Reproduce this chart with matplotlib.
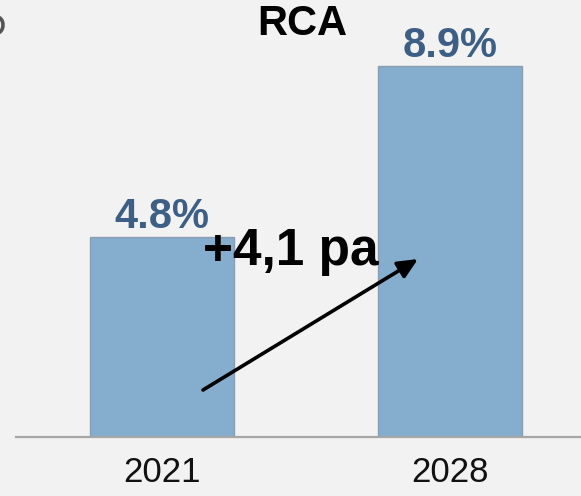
import matplotlib
matplotlib.use("Agg")
import matplotlib.pyplot as plt
from matplotlib.patches import Arc

categories = ["2021", "2028"]
values = [4.8, 8.9]
value_labels = ["4.8%", "8.9%"]
title = "RCA"
delta_label = "+4,1 pa"

W, H = 581, 496
DPI = 100
BG = "#f2f2f2"
BAR = "#85adce"
EDGE = "#8c9db0"
LABEL = "#3e5f85"

plt.rcParams["font.family"] = ["Liberation Sans", "DejaVu Sans"]

fig = plt.figure(figsize=(W / DPI, H / DPI), dpi=DPI, facecolor=BG)
ax = fig.add_axes([0, 59 / H, 1, 1 - 59 / H])
ax.set_facecolor(BG)

x = list(range(len(categories)))
ax.bar(x, values, width=0.5, color=BAR, edgecolor=EDGE, linewidth=1.0, zorder=2)

ax.set_xlim((0 - 162) / 288, (W - 162) / 288)
ax.set_ylim(0, (H - 59) / 41.7)

for s in ax.spines.values():
    s.set_visible(False)
ax.axhline(0, xmin=16 / W, xmax=1, color="#a6a6a6", linewidth=1.6, zorder=3, clip_on=False)

ax.set_yticks([])
ax.set_xticks(x)
ax.set_xticklabels(categories, fontsize=25, color="#111111")
ax.tick_params(axis="x", length=0, pad=14)

for xi, v, lab in zip(x, values, value_labels):
    ax.annotate(lab, (xi, v), xytext=(0, 6.5), textcoords="offset points",
                ha="center", va="baseline", fontsize=30, fontweight="bold",
                color=LABEL, zorder=4)

fig.text(302 / W, 1 - 35 / H, title, ha="center", va="baseline",
         fontsize=30, fontweight="bold", color="black")

fig.text(291 / W, 1 - 265 / H, delta_label, ha="center", va="baseline",
         fontsize=37, fontweight="bold", color="black", zorder=5)

ax.annotate("", xy=(418 / W, 1 - 259 / H), xycoords="figure fraction",
            xytext=(203 / W, 1 - 390 / H), textcoords="figure fraction",
            arrowprops=dict(arrowstyle="-|>,head_length=1.2,head_width=0.55",
                            color="black", lw=2.6, shrinkA=0, shrinkB=0),
            zorder=6)

# fragment of a glyph cut off at the left edge in the reference
frag = Arc((-3, H - 25), 12, 16, transform=None, color="#555555", lw=2.6)
fig.add_artist(frag)

fig.savefig("out.png", dpi=DPI, facecolor=BG)
